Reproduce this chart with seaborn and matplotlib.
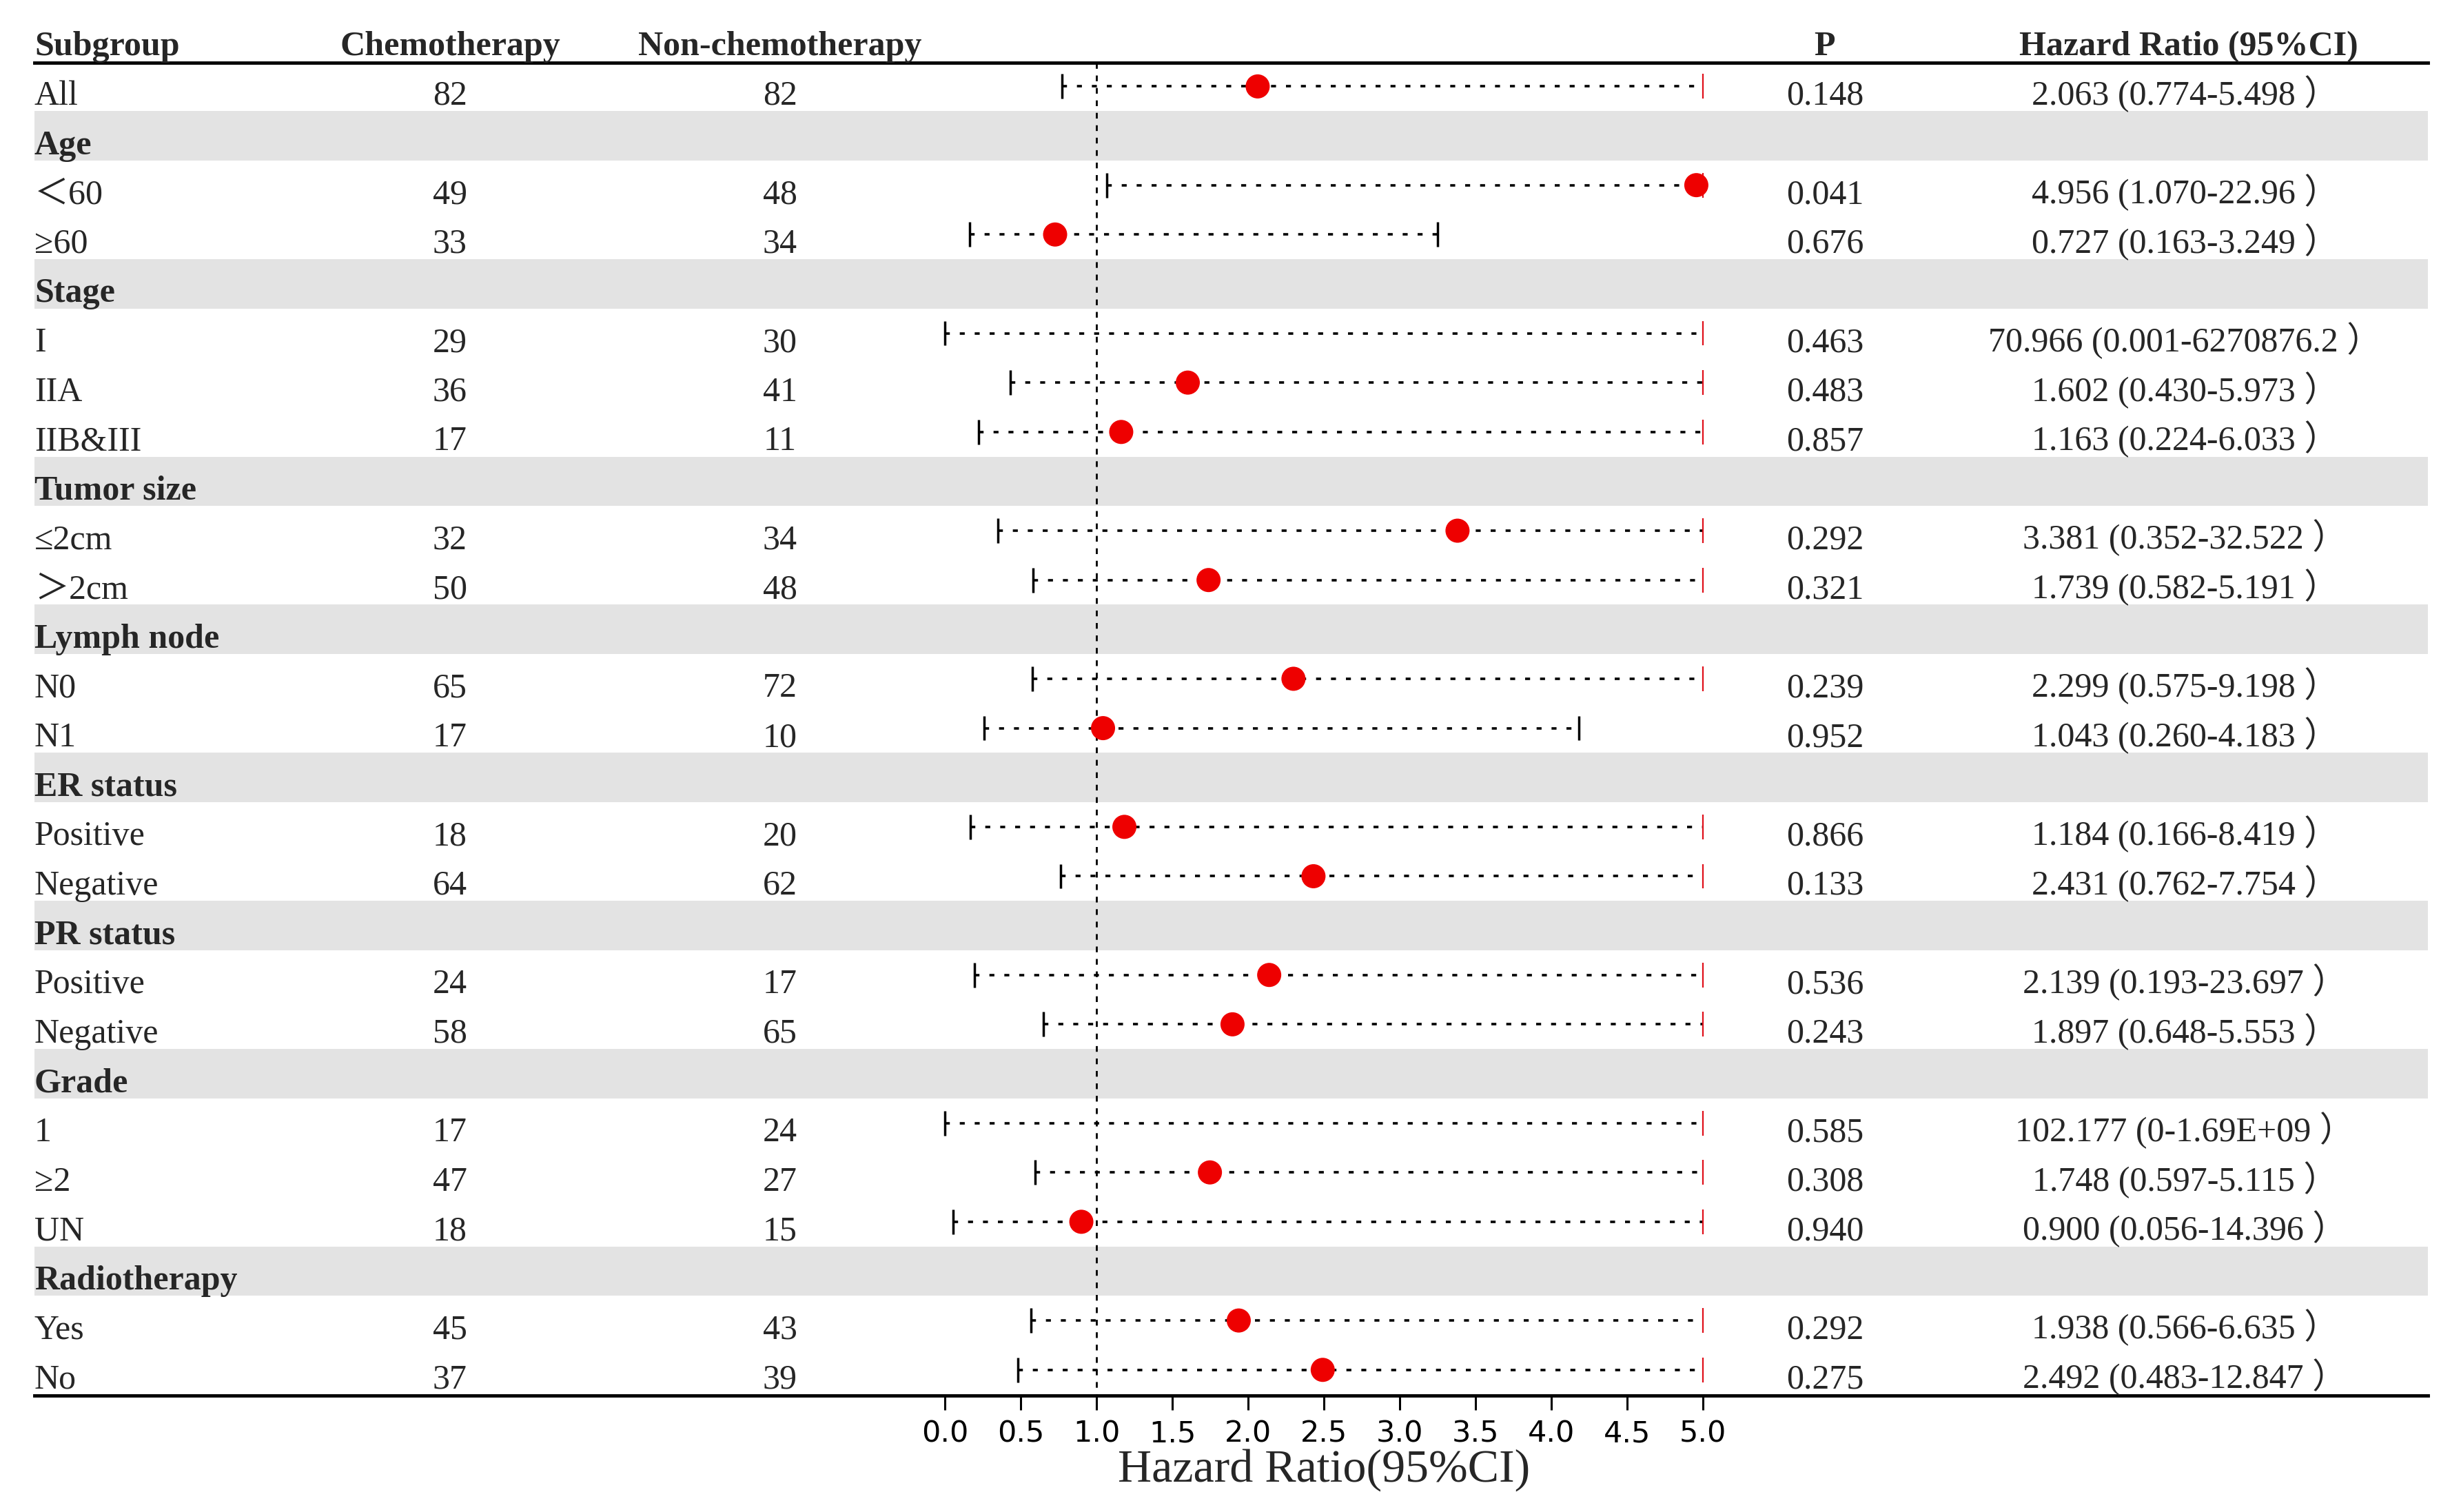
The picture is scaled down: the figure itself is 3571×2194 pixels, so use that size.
import numpy as np
import pandas as pd
import matplotlib
matplotlib.use("Agg")
import matplotlib.pyplot as plt
import matplotlib.transforms as mtransforms
import seaborn as sns

# Table rows (top to bottom)
subgroups = ["All", "Age", "＜60", "≥60", "Stage", "I", "IIA", "IIB&III",
             "Tumor size", "≤2cm", "＞2cm", "Lymph node", "N0", "N1",
             "ER status", "Positive", "Negative", "PR status", "Positive", "Negative",
             "Grade", "1", "≥2", "UN", "Radiotherapy", "Yes", "No"]
group_rows = ["Age", "Stage", "Tumor size", "Lymph node", "ER status",
              "PR status", "Grade", "Radiotherapy"]

chemo = [82, None, 49, 33, None, 29, 36, 17, None, 32, 50, None, 65, 17,
         None, 18, 64, None, 24, 58, None, 17, 47, 18, None, 45, 37]
non_chemo = [82, None, 48, 34, None, 30, 41, 11, None, 34, 48, None, 72, 10,
             None, 20, 62, None, 17, 65, None, 24, 27, 15, None, 43, 39]
p_values = ["0.148", None, "0.041", "0.676", None, "0.463", "0.483", "0.857",
            None, "0.292", "0.321", None, "0.239", "0.952", None, "0.866", "0.133",
            None, "0.536", "0.243", None, "0.585", "0.308", "0.940", None, "0.292", "0.275"]

hr = [2.063, np.nan, 4.956, 0.727, np.nan, 70.966, 1.602, 1.163, np.nan, 3.381, 1.739,
      np.nan, 2.299, 1.043, np.nan, 1.184, 2.431, np.nan, 2.139, 1.897, np.nan,
      102.177, 1.748, 0.900, np.nan, 1.938, 2.492]
lower = [0.774, np.nan, 1.070, 0.163, np.nan, 0.001, 0.430, 0.224, np.nan, 0.352, 0.582,
         np.nan, 0.575, 0.260, np.nan, 0.166, 0.762, np.nan, 0.193, 0.648, np.nan,
         0.0, 0.597, 0.056, np.nan, 0.566, 0.483]
upper = [5.498, np.nan, 22.96, 3.249, np.nan, 6270876.2, 5.973, 6.033, np.nan, 32.522, 5.191,
         np.nan, 9.198, 4.183, np.nan, 8.419, 7.754, np.nan, 23.697, 5.553, np.nan,
         1.69e9, 5.115, 14.396, np.nan, 6.635, 12.847]
hr_text = ["2.063 (0.774-5.498 ）", None, "4.956 (1.070-22.96 ）", "0.727 (0.163-3.249 ）", None,
           "70.966 (0.001-6270876.2 ）", "1.602 (0.430-5.973 ）", "1.163 (0.224-6.033 ）", None,
           "3.381 (0.352-32.522 ）", "1.739 (0.582-5.191 ）", None,
           "2.299 (0.575-9.198 ）", "1.043 (0.260-4.183 ）", None,
           "1.184 (0.166-8.419 ）", "2.431 (0.762-7.754 ）", None,
           "2.139 (0.193-23.697 ）", "1.897 (0.648-5.553 ）", None,
           "102.177 (0-1.69E+09 ）", "1.748 (0.597-5.115 ）", "0.900 (0.056-14.396 ）", None,
           "1.938 (0.566-6.635 ）", "2.492 (0.483-12.847 ）"]

x_ticks = [0.0, 0.5, 1.0, 1.5, 2.0, 2.5, 3.0, 3.5, 4.0, 4.5, 5.0]
x_max = 5.0

df = pd.DataFrame({"label": subgroups, "chemo": chemo, "non_chemo": non_chemo,
                   "p": p_values, "hr": hr, "lower": lower, "upper": upper,
                   "hr_text": hr_text})
df["row"] = np.arange(len(df))
df["is_group"] = df["label"].isin(group_rows) & df["hr"].isna()

sns.set_theme(style="white")
serif = ["Liberation Serif", "Noto Sans CJK SC"]
plt.rcParams["font.family"] = serif

fig = plt.figure(figsize=(35.71, 21.94), dpi=100)
ax = fig.add_axes([0.0140, 0.07703, 0.9726, 0.88149])

# axis scale: 0 -> 1371px, 220px per unit, axes spans 50..3523px
px_per_unit = 220.0
ax.set_xlim((50 - 1371) / px_per_unit, (3523 - 1371) / px_per_unit)
ax.set_ylim(len(df) - 0.48, -0.48)

# grey bands behind group rows
for r in df.loc[df["is_group"], "row"]:
    ax.axhspan(r - 0.5, r + 0.5, color="#e3e3e3", zorder=0, lw=0)

# reference line
ax.plot([1, 1], [-0.48, len(df) - 0.48], color="black", lw=2.0,
        ls=(0, (3, 3.5)), zorder=2)

# confidence intervals
ci = df.dropna(subset=["hr"]).copy()
ci["right"] = ci["upper"].clip(upper=x_max)
ax.hlines(ci["row"], ci["lower"], ci["right"], color="black", lw=2.6,
          linestyles=(0, (2, 4)), zorder=3)
ax.vlines(ci["lower"], ci["row"] - 0.25, ci["row"] + 0.25, color="black", lw=2.5, zorder=3)
inside = ci[ci["upper"] <= x_max]
ax.vlines(inside["upper"], inside["row"] - 0.25, inside["row"] + 0.25,
          color="black", lw=2.5, zorder=3)
cut = ci[ci["upper"] > x_max]
ax.vlines(cut["right"], cut["row"] - 0.25, cut["row"] + 0.25,
          color="#e0101a", lw=1.6, zorder=3)

# point estimates
pts = ci[ci["hr"] <= x_max]
sns.scatterplot(data=pts, x="hr", y="row", color="#ee0000", s=635,
                edgecolor="none", ax=ax, zorder=5, legend=False)

# text columns
tr = mtransforms.blended_transform_factory(ax.transAxes, ax.transData)
col_chemo, col_non, col_p, col_hr = 0.1736, 0.3115, 0.748, 0.8984
fs = 36
base = 0.37
headers = [(0.0, "Subgroup", "left"), (col_chemo, "Chemotherapy", "center"),
           (col_non, "Non-chemotherapy", "center"), (col_p, "P", "center"),
           (0.9001, "Hazard Ratio (95%CI)", "center")]
for x, t, ha in headers:
    ax.text(x, -1 + base, t, transform=tr, ha=ha, va="baseline", fontsize=fs,
            fontweight="bold", family=serif, clip_on=False)

for _, r in df.iterrows():
    y = r["row"] + base
    ax.text(0.0, y, r["label"], transform=tr, ha="left", va="baseline", fontsize=fs,
            fontweight="bold" if r["is_group"] else "normal", family=serif)
    if r["is_group"]:
        continue
    ax.text(col_chemo, y, str(int(r["chemo"])), transform=tr, ha="center",
            va="baseline", fontsize=fs, family=serif)
    ax.text(col_non, y, str(int(r["non_chemo"])), transform=tr, ha="center",
            va="baseline", fontsize=fs, family=serif)
    ax.text(col_p, y, r["p"], transform=tr, ha="center", va="baseline",
            fontsize=fs, family=serif)
    ax.text(col_hr, y, r["hr_text"], transform=tr, ha="center", va="baseline",
            fontsize=fs, family=serif)

# axes styling
for side in ["left", "right"]:
    ax.spines[side].set_visible(False)
for side in ["top", "bottom"]:
    ax.spines[side].set_visible(True)
    ax.spines[side].set_linewidth(3.5)
    ax.spines[side].set_color("black")
ax.set_yticks([])
ax.set_xticks(x_ticks)
ax.set_xticklabels([f"{v:.1f}" for v in x_ticks], family="DejaVu Sans", fontsize=31)
ax.tick_params(axis="x", direction="out", length=15, width=2.2, pad=10,
               bottom=True, colors="black")
ax.set_xlabel("")
ax.set_ylabel("")
ax.text(2.5, -0.0646, "Hazard Ratio(95%CI)",
        transform=mtransforms.blended_transform_factory(ax.transData, ax.transAxes),
        ha="center", va="baseline", fontsize=49, family=serif, clip_on=False)

fig.savefig("out.png", dpi=100, facecolor="white")
